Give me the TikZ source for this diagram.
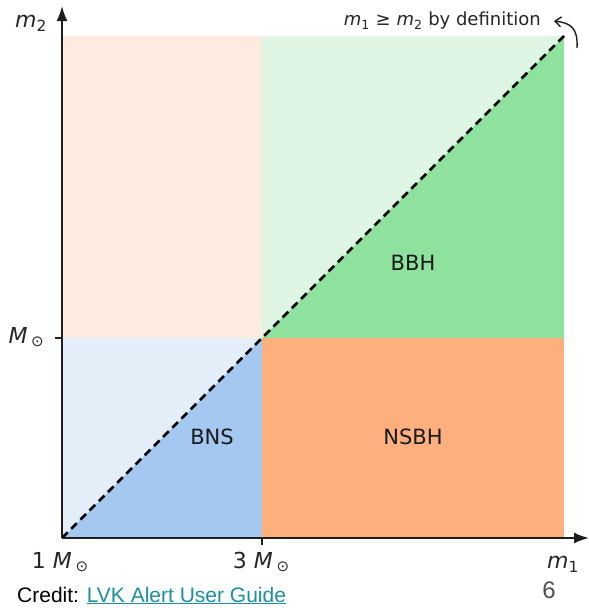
\documentclass[tikz,border=0pt]{standalone}
\usepackage{fontspec}
\setmainfont{DejaVu Sans}
\newfontfamily\slidefont{Liberation Sans}
\usetikzlibrary{arrows.meta, positioning, calc}
\definecolor{peachlight}{RGB}{253, 235, 223}
\definecolor{greenlight}{RGB}{223, 245, 228}
\definecolor{bbhgreen}{RGB}{142, 226, 158}
\definecolor{bluelight}{RGB}{227, 238, 249}
\definecolor{bnsblue}{RGB}{164, 200, 240}
\definecolor{nsbhorange}{RGB}{253, 176, 126}
\definecolor{axisgray}{RGB}{30, 30, 30}
\definecolor{linkteal}{RGB}{26, 143, 160}
\definecolor{pagegray}{RGB}{80, 80, 80}
\newcommand{\sunmass}{\textit{M}\,{\fontsize{15}{16}\selectfont\raisebox{-3pt}{⊙}}}

\begin{document}
\begin{tikzpicture}[x=1pt, y=-1pt,
    region/.style={font=\fontsize{21}{24}\selectfont, text=black!90},
    ticklbl/.style={font=\fontsize{22}{26}\selectfont, text=black!85},
    axis/.style={line width=2pt, draw=axisgray, -{Latex[length=15pt, width=11pt]}}]
    \useasboundingbox (0,0) rectangle (589,608);
    \coordinate (origin) at (62,538);
    \coordinate (mid) at (262,338);
    \coordinate (corner) at (564,36);
    % mass regions
    \fill[peachlight] (62,36) rectangle (mid);
    \fill[greenlight] (262,36) rectangle (564,338);
    \fill[bbhgreen] (mid) -- (corner) -- (564,338) -- cycle;
    \fill[bluelight] (62,338) rectangle (262,538);
    \fill[bnsblue] (origin) -- (mid) -- (262,538) -- cycle;
    \fill[nsbhorange] (mid) rectangle (564,538);
    \draw[line width=2.5pt, dash pattern=on 8pt off 5pt] (origin) -- (corner);
    % axes and ticks
    \coordinate (ytop) at (62,6);
    \coordinate (xend) at (589,538);
    \draw[axis] (origin) -- (ytop);
    \draw[axis] (origin) -- (xend);
    \draw[line width=1.3pt, axisgray] (62,338) -- (55,338);
    \draw[line width=1.3pt, axisgray] (262,538) -- (262,545);
    \node[ticklbl] (m2lbl) at (31,23) {\textit{m}\textsubscript{2}};
    \node[ticklbl] (m1lbl) at (563,564) {\textit{m}\textsubscript{1}};
    \node[ticklbl, anchor=east, inner sep=0pt] (msun) at (44,337) {\sunmass};
    \node[ticklbl] (onesun) at (60,562) {1 \sunmass};
    \node[ticklbl] (threesun) at (261,562) {3 \sunmass};
    % class labels
    \node[region] (bns) at (212,437) {BNS};
    \node[region] (nsbh) at (413,437) {NSBH};
    \node[region] (bbh) at (413,263) {BBH};
    % note on ordering
    \node[font=\fontsize{18}{21}\selectfont, text=black!85, inner sep=0pt, anchor=east] (defnote) at (541,21)
        {\textit{m}\textsubscript{1} ≥ \textit{m}\textsubscript{2} by definition};
    \coordinate (notetail) at (577,48);
    \draw[line width=1.4pt, axisgray, -{Straight Barb[length=6pt, width=10pt]}]
        (notetail) .. controls (578,28) and (571,23) .. ([xshift=13pt]defnote.east);
    % slide footer
    \node[font=\slidefont\fontsize{21}{24}\selectfont, anchor=base west, inner sep=0pt] (credit) at (17,602)
        {Credit: \textcolor{linkteal}{\underline{LVK Alert User Guide}}};
    \node[font=\slidefont\fontsize{24}{28}\selectfont, text=pagegray] (pagenum) at (549,590) {6};
\end{tikzpicture}
\end{document}
